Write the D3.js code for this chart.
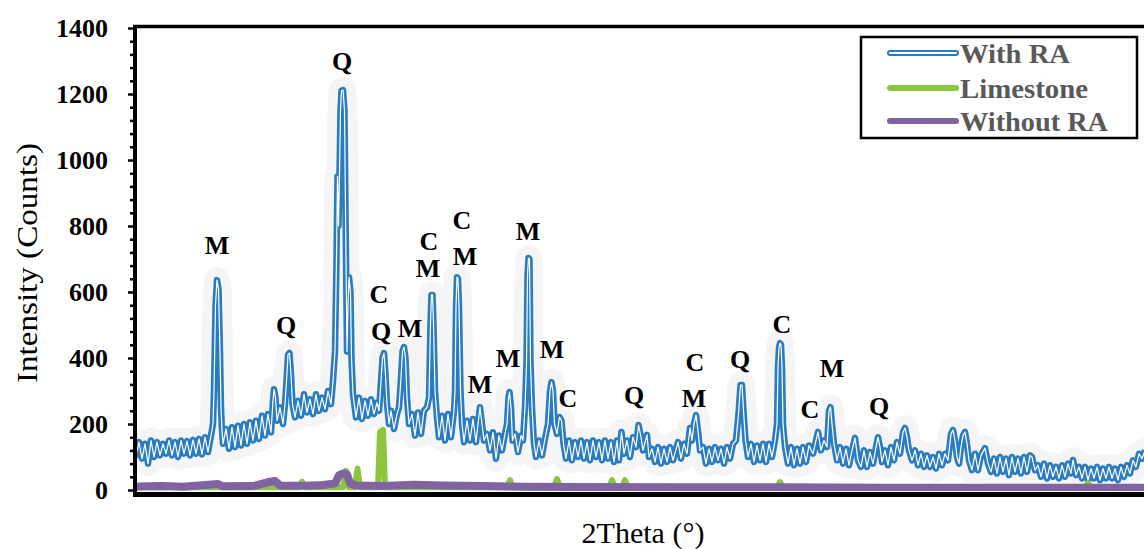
<!DOCTYPE html>
<html>
<head>
<meta charset="utf-8">
<script src="https://cdn.jsdelivr.net/npm/d3@7"></script>
<style>
  body { margin: 0; background: #fff; }
  svg { display: block; }
</style>
</head>
<body>
<svg id="svg"></svg>
<script>
// y axis ticks
const yTicks = [0, 200, 400, 600, 800, 1000, 1200, 1400];

// With RA pattern, [2theta, counts]
const withRA = [
  [5.0,130],[5.3,105],[5.6,145],[5.9,95],[6.2,140],[6.5,80],[6.8,150],[7.1,100],[7.4,145],[7.7,105],
  [8.0,140],[8.3,110],[8.6,150],[8.9,105],[9.2,145],[9.5,100],[9.8,150],[10.1,110],[10.4,148],[10.7,105],
  [11.0,152],[11.3,110],[11.6,155],[11.9,108],[12.2,160],[12.5,115],[12.8,165],
  [13.0,200],[13.1,300],[13.25,560],[13.4,636],[13.55,610],[13.7,420],[13.8,250],[13.9,180],
  [14.0,140],[14.3,185],[14.6,125],[14.9,190],[15.2,130],[15.5,195],[15.8,135],[16.1,200],[16.4,140],
  [16.7,205],[17.0,150],[17.3,210],[17.6,155],[17.9,225],[18.2,165],[18.5,230],[18.8,175],
  [19.0,270],[19.1,305],[19.25,280],[19.4,210],[19.7,250],[20.0,200],[20.2,260],[20.35,330],[20.5,410],
  [20.65,415],[20.8,350],[20.95,260],[21.2,220],[21.5,270],
  [21.8,225],[22.1,290],[22.4,235],[22.7,275],[23.0,230],[23.3,290],[23.6,240],[23.9,280],[24.2,245],
  [24.5,300],[24.8,260],
  [25.0,330],[25.2,420],[25.35,700],[25.45,950],[25.55,800],[25.65,960],[25.75,1150],[25.85,1210],
  [26.0,1212],[26.15,1150],[26.3,700],[26.4,420],[26.5,560],[26.6,645],[26.75,600],[26.85,400],[27.0,290],
  [27.3,220],[27.6,280],[27.9,215],[28.2,270],[28.5,225],[28.8,275],[29.1,230],[29.4,265],
  [29.6,240],[29.8,330],[29.95,400],[30.1,415],[30.25,350],[30.4,260],[30.6,200],
  [30.8,240],[31.1,185],[31.4,230],
  [31.6,250],[31.8,340],[31.95,420],[32.1,433],[32.25,400],[32.4,280],[32.6,200],
  [32.9,230],[33.2,165],[33.5,235],[33.8,170],[34.1,240],
  [34.4,250],[34.6,280],[34.75,505],[34.85,591],[34.95,591],[35.05,505],[35.2,300],[35.4,220],
  [35.6,160],[35.9,225],[36.2,150],[36.5,230],[36.8,160],[37.1,240],
  [37.2,300],[37.3,555],[37.4,645],[37.5,640],[37.6,555],[37.75,300],[37.9,200],
  [38.1,145],[38.4,210],[38.7,150],[39.0,215],[39.3,145],
  [39.5,200],[39.7,251],[39.9,200],[40.1,150],
  [40.4,170],[40.7,120],[41.0,175],[41.3,95],[41.6,165],[41.9,120],[42.2,170],
  [42.4,200],[42.55,280],[42.65,297],[42.8,250],[42.95,150],
  [43.2,170],[43.5,115],[43.8,165],
  [44.0,150],[44.2,250],[44.35,385],[44.45,650],[44.55,703],[44.65,700],[44.75,385],[44.9,250],[45.1,140],
  [45.3,100],[45.6,150],[45.9,105],[46.2,155],
  [46.5,200],[46.7,300],[46.85,327],[47.0,300],[47.15,200],
  [47.4,170],[47.65,221],[47.85,210],[48.05,140],
  [48.3,95],[48.6,150],[48.9,90],[49.2,145],[49.5,100],[49.8,150],[50.1,95],[50.4,145],[50.7,90],
  [51.0,150],[51.3,100],[51.6,145],[51.9,90],[52.2,150],[52.5,95],[52.8,145],[53.1,85],[53.4,150],[53.6,90],
  [53.85,176],[54.1,110],
  [54.4,150],[54.7,100],[55.0,160],[55.3,130],[55.55,197],[55.8,160],[56.0,120],[56.4,167],[56.6,100],
  [56.9,125],[57.2,85],[57.5,130],[57.8,80],[58.1,125],[58.4,85],[58.7,130],[59.0,90],
  [59.5,145],[59.8,95],[60.1,140],[60.4,110],[60.7,188],[60.9,150],[61.1,200],[61.3,227],[61.5,180],[61.7,120],
  [62.0,130],[62.3,80],[62.6,125],[62.9,85],[63.2,130],[63.5,90],[63.8,125],[64.1,80],[64.4,130],[64.7,95],[65.0,140],
  [65.3,150],[65.55,230],[65.75,318],[65.9,318],[66.05,240],[66.25,150],[66.5,100],
  [66.8,140],[67.1,85],[67.4,135],[67.7,90],[68.0,140],[68.3,85],[68.6,140],[68.9,100],
  [69.2,150],[69.4,200],[69.5,373],[69.6,430],[69.7,445],[69.8,440],[69.9,373],[70.0,200],[70.2,130],
  [70.5,80],[70.8,130],[71.1,75],[71.4,125],[71.7,80],[72.0,130],[72.3,85],[72.6,135],
  [73.0,110],[73.5,176],[73.8,120],[74.1,150],[74.4,130],[74.6,240],[74.75,251],[74.9,200],[75.1,140],[75.4,90],
  [75.7,130],[76.0,80],[76.3,125],[76.6,75],[76.9,120],[77.2,158],[77.5,90],[77.8,70],[78.1,120],[78.4,70],
  [78.7,115],[79.0,80],[79.3,130],[79.5,160],[79.7,130],[79.9,85],[80.2,120],[80.5,75],
  [80.8,130],[81.1,90],[81.4,145],[81.7,110],[82.0,175],[82.2,188],[82.4,160],[82.6,120],[82.9,90],
  [83.2,120],[83.5,75],[83.8,110],[84.1,70],[84.4,105],[84.7,70],[85.0,100],[85.3,65],[85.6,110],[85.9,75],
  [86.2,110],[86.5,90],[86.8,170],[87.0,182],[87.2,150],[87.4,100],[87.6,80],[87.8,130],[88.0,165],
  [88.2,176],[88.4,140],[88.6,90],[88.9,60],
  [89.2,110],[89.5,60],[89.8,105],
  [90.2,127],[90.5,80],[90.8,55],
  [91.1,95],[91.4,50],[91.7,100],[92.0,55],[92.3,95],[92.6,45],[92.9,100],[93.2,55],[93.5,95],[93.8,50],
  [94.1,100],[94.4,55],[94.7,105],[94.9,100],[95.2,60],
  [95.5,75],[95.8,40],[96.1,80],[96.4,35],[96.7,75],[97.0,40],[97.3,70],[97.6,35],[97.9,75],[98.2,40],
  [98.5,80],[98.8,50],[99.0,91],[99.3,45],[99.6,70],
  [99.9,35],[100.2,70],[100.5,30],[100.8,65],[101.1,35],[101.4,70],[101.7,30],[102.0,65],[102.3,35],
  [102.6,70],[102.9,35],[103.2,65],[103.5,30],[103.8,70],[104.1,40],[104.4,75],[104.7,50],
  [105.0,90],[105.3,70],[105.6,110],[105.9,95],[106.2,120]
];

// Limestone pattern
const limestone = [
  [5,8],[21.6,8],[21.9,25],[22.2,8],[26.0,8],[26.3,58],[26.6,8],[27.2,8],[27.45,65],[27.7,8],
  [29.5,8],[29.7,175],[30.0,182],[30.2,8],[42.4,8],[42.7,30],[43.0,8],[47.1,8],[47.4,33],[47.7,8],
  [52.6,8],[52.9,30],[53.2,8],[53.9,8],[54.2,30],[54.5,8],[69.4,8],[69.7,24],[70.0,8],
  [100.2,8],[100.5,21],[100.8,8],[106.5,8]
];

// Without RA pattern
const withoutRA = [
  [5,10],[8,12],[10,10],[13.5,18],[14,11],[17,12],[18.7,25],[19.2,27],[19.7,14],[22,13],[24,15],
  [25.2,20],[25.6,45],[26.0,50],[26.4,48],[26.7,20],[27.3,14],[30,12],[33,16],[36,14],[40,12],
  [44,10],[50,9],[60,8],[70,8],[80,7],[90,7],[106.5,7]
];

// phase labels (M = mullite, Q = quartz, C = calcite)
const peakText  = ["M","Q","Q","C","Q","M","C","M","C","M","M","M","M","M","C","Q","C","M","Q","C","C","M","Q"];
const peakTheta = [13.4,25.9,20.3,29.6,29.8,32.7,34.6,34.5,37.9,38.2,39.7,42.5,44.5,46.9,48.5,55.1,61.2,61.1,65.7,69.9,72.7,74.9,79.6];
const peakCount = [715,1273,473,567,455,464,728,645,792,682,294,373,758,400,252,262,362,252,370,476,218,342,227];

const legendNames = ["With RA", "Limestone", "Without RA"];

let width = 1144, height = 549;
const serif = "'Liberation Serif', 'Times New Roman', serif";
const blue = "#2a7cc0", green = "#8cc63f", purple = "#8064a2";

let x = d3.scaleLinear().domain([5, 106]).range([133, 1143]);
let y = d3.scaleLinear().domain([0, 1400]).range([490, 28]);

let svg = d3.select("#svg").attr("width", width).attr("height", height)
  .style("font-family", serif);

svg.append("defs").append("clipPath").attr("id", "plot")
  .append("rect").attr("x", 137).attr("y", 28).attr("width", 1010).attr("height", 463);

let line = d3.line().x(d => x(d[0])).y(d => y(d[1]));

let plot = svg.append("g").attr("clip-path", "url(#plot)");

// faint halo around the pattern
plot.append("path").datum(withRA).attr("d", line)
  .attr("fill", "none").attr("stroke", "#f5f5f5")
  .attr("stroke-width", 26).attr("stroke-linejoin", "round").attr("stroke-linecap", "round");

// hollow blue line
plot.append("path").datum(withRA).attr("d", line)
  .attr("fill", "none").attr("stroke", blue)
  .attr("stroke-width", 6.5).attr("stroke-linejoin", "round");
plot.append("path").datum(withRA).attr("d", line)
  .attr("fill", "none").attr("stroke", "#fff")
  .attr("stroke-width", 1.2).attr("stroke-linejoin", "round");

plot.append("path").datum(limestone).attr("d", line)
  .attr("fill", "none").attr("stroke", green)
  .attr("stroke-width", 6).attr("stroke-linejoin", "round").attr("stroke-linecap", "round");

plot.append("path").datum(withoutRA).attr("d", line)
  .attr("fill", "none").attr("stroke", purple)
  .attr("stroke-width", 8).attr("stroke-linejoin", "round");

// y axis, major + minor ticks
let minor = d3.range(0, 1401, 40).filter(v => v % 200 != 0);
svg.append("g").attr("transform", "translate(135,0)")
  .call(d3.axisLeft(y).tickValues(minor).tickSize(5).tickFormat(""))
  .call(g => g.select(".domain").remove())
  .selectAll("line").attr("stroke", "#000").attr("stroke-width", 2.5);

let yAxis = svg.append("g").attr("transform", "translate(135,0)")
  .call(d3.axisLeft(y).tickValues(yTicks).tickSize(7).tickPadding(20).tickFormat(d3.format("d")));
yAxis.attr("font-family", serif);
yAxis.select(".domain").remove();
yAxis.selectAll("line").attr("stroke", "#000").attr("stroke-width", 2.5);
yAxis.selectAll("text")
  .style("font-family", serif).attr("font-size", 26).attr("font-weight", "bold").attr("fill", "#000");

// frame
svg.append("line").attr("x1", 135).attr("x2", 135).attr("y1", 25).attr("y2", 497)
  .attr("stroke", "#000").attr("stroke-width", 4);
svg.append("line").attr("x1", 133).attr("x2", width).attr("y1", 26.5).attr("y2", 26.5)
  .attr("stroke", "#000").attr("stroke-width", 3.5);
svg.append("line").attr("x1", 133).attr("x2", width).attr("y1", 494.5).attr("y2", 494.5)
  .attr("stroke", "#000").attr("stroke-width", 5);

// phase labels
svg.append("g").selectAll("text")
  .data(peakText)
  .join("text")
  .attr("x", (d, i) => x(peakTheta[i]))
  .attr("y", (d, i) => y(peakCount[i]))
  .attr("text-anchor", "middle")
  .style("font-family", serif).attr("font-size", 26).attr("font-weight", "bold")
  .text(d => d);

// axis titles
svg.append("text")
  .attr("transform", "translate(37,263) rotate(-90)")
  .attr("text-anchor", "middle")
  .style("font-family", serif).attr("font-size", 30)
  .attr("textLength", 240).attr("lengthAdjust", "spacingAndGlyphs")
  .text("Intensity (Counts)");

svg.append("text")
  .attr("x", 643).attr("y", 543)
  .attr("text-anchor", "middle")
  .style("font-family", serif).attr("font-size", 30)
  .text("2Theta (°)");

// legend
let legend = svg.append("g");
legend.append("rect").attr("x", 861).attr("y", 37).attr("width", 276).attr("height", 101)
  .attr("fill", "#fff").attr("stroke", "#000").attr("stroke-width", 2.5);

let legendY = [53, 88, 121];
let legendColor = [blue, green, purple];
legend.selectAll("line.sample")
  .data(legendNames)
  .join("line")
  .attr("class", "sample")
  .attr("x1", 890).attr("x2", 956)
  .attr("y1", (d, i) => legendY[i]).attr("y2", (d, i) => legendY[i])
  .attr("stroke", (d, i) => legendColor[i])
  .attr("stroke-width", 6).attr("stroke-linecap", "round");
legend.append("line")
  .attr("x1", 890).attr("x2", 956).attr("y1", legendY[0]).attr("y2", legendY[0])
  .attr("stroke", "#fff").attr("stroke-width", 2).attr("stroke-linecap", "round");

let legendLen = [110, 128, 148];
legend.selectAll("text")
  .data(legendNames)
  .join("text")
  .attr("x", 960)
  .attr("y", (d, i) => legendY[i] + 10)
  .style("font-family", serif).attr("font-size", 27).attr("font-weight", "bold")
  .attr("fill", "#595959")
  .attr("textLength", (d, i) => legendLen[i]).attr("lengthAdjust", "spacingAndGlyphs")
  .text(d => d);
</script>
</body>
</html>
